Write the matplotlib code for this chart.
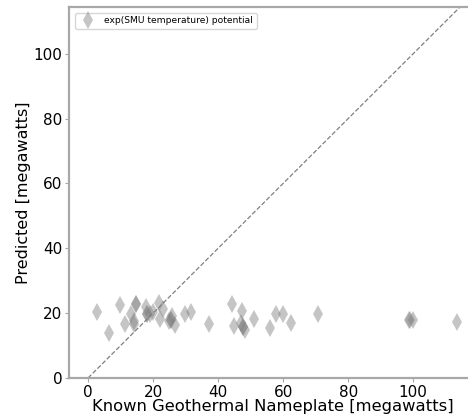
import numpy as np
import matplotlib.pyplot as plt

# known nameplate vs predicted (megawatts)
known = [2.7, 6.4, 9.9, 11.5, 13.3, 14.0, 14.1, 14.8, 17.9, 18.1, 19.1, 19.9,
         21.7, 22.2, 23.2, 24.9, 25.9, 25.6, 26.6, 29.7, 31.7,
         37.1, 44.3, 44.8, 47.4, 47.1, 47.6, 48.2, 51.0, 55.8, 57.7, 59.9,
         62.5, 70.7, 98.7, 99.9, 113.5]
predicted = [20.2, 14.0, 22.5, 16.7, 19.8, 17.7, 16.6, 22.8, 21.8, 19.8, 19.8, 20.2,
             23.2, 18.1, 21.2, 17.7, 19.1, 17.9, 16.4, 19.8, 20.5,
             16.7, 22.8, 16.0, 20.8, 16.9, 15.6, 14.8, 18.2, 15.3, 19.8, 19.8,
             16.9, 19.8, 18.0, 18.0, 17.2]
# a few extra overlapping points in the dense cluster
known += [14.8, 18.1, 25.6, 47.6, 98.9]
predicted += [22.8, 19.8, 17.9, 15.6, 18.0]

label = "exp(SMU temperature) potential"

fig = plt.figure(figsize=(4.68, 4.2), dpi=100)
# right edge of the axes falls just outside the picture
ax = fig.add_axes([0.1485, 0.1, 0.87, 0.8826])

ax.plot([0, 120], [0, 120], '--', color='grey', lw=0.9, zorder=1)
ax.plot(known, predicted, 'd', color='grey', alpha=0.45, markersize=9,
        markeredgewidth=0, label=label, zorder=2)

ax.set_xlim(-5.7, 119.5)
ax.set_ylim(0, 114.3)
ax.set_xticks([0, 20, 40, 60, 80, 100])
ax.set_yticks([0, 20, 40, 60, 80, 100])

for s in ax.spines.values():
    s.set_color('#a8a8a8')
    s.set_linewidth(1.6)
ax.tick_params(labelsize=11, color='#a8a8a8', length=3, pad=2)

ax.set_xlabel("Known Geothermal Nameplate [megawatts]", fontsize=11.8, labelpad=-1)
ax.set_ylabel("Predicted [megawatts]", fontsize=11.5, labelpad=2)

ax.legend(loc='upper left', fontsize=6.6, borderaxespad=0.6)

plt.savefig("out.png", dpi=100)
